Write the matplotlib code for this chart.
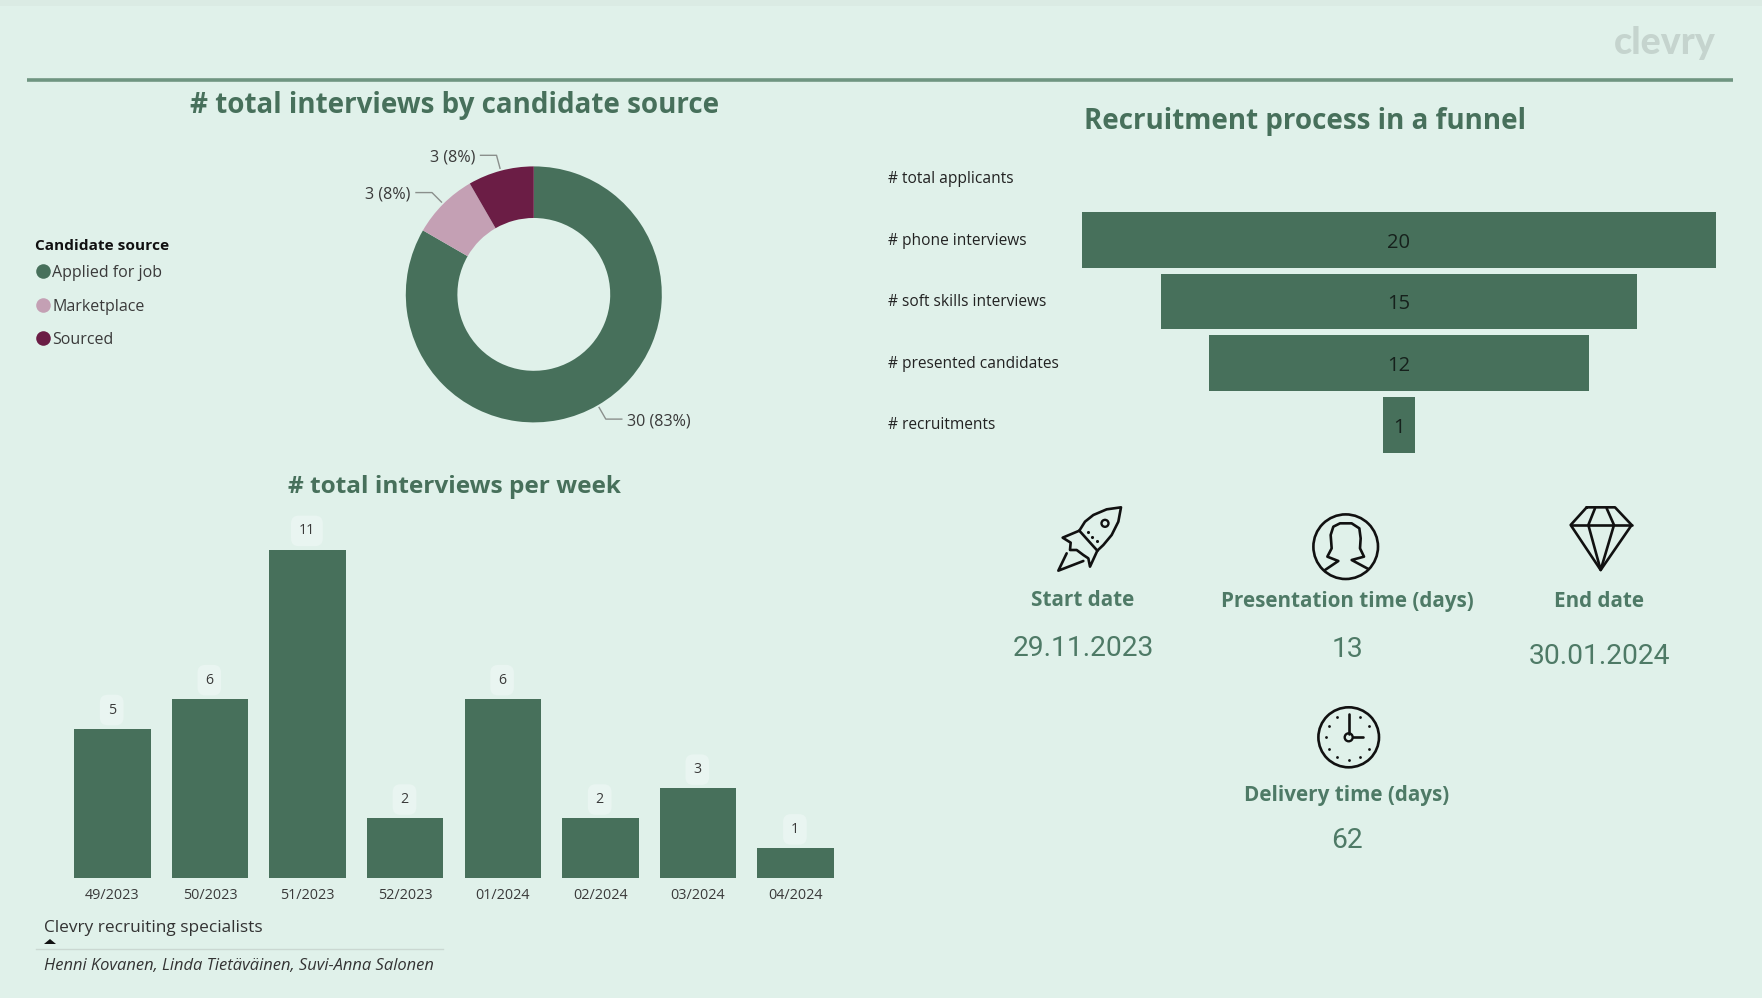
import numpy as np
import matplotlib
matplotlib.use('Agg')
import matplotlib.pyplot as plt
from matplotlib.patches import Ellipse, Rectangle, Polygon

# data
weeks = ['49/2023', '50/2023', '51/2023', '52/2023', '01/2024', '02/2024', '03/2024', '04/2024']
week_interviews = [5, 6, 11, 2, 6, 2, 3, 1]

sources = ['Applied for job', 'Marketplace', 'Sourced']
source_counts = [30, 3, 3]
source_labels = ['30 (83%)', '3 (8%)', '3 (8%)']

funnel_steps = ['# total applicants', '# phone interviews', '# soft skills interviews',
                '# presented candidates', '# recruitments']
funnel_values = [0, 20, 15, 12, 1]

kpi_titles = ['Start date', 'Presentation time (days)', 'End date', 'Delivery time (days)']
kpi_values = ['29.11.2023', '13', '30.01.2024', '62']

GREEN = '#47705B'
PINK = '#C4A0B4'
WINE = '#6B1D45'
BG = '#E0F1EA'
TITLE = '#47705B'
TEXT = '#3A3A3A'
FONT = 'Open Sans'
W, H = 1762, 998
DY = 2.5   # Open Sans sits a little high with va=center

plt.rcParams['font.family'] = FONT


def px_axes(fig, left, top, right, bottom):
    # axes placed by pixel box, y counted from the top of the picture
    return fig.add_axes([left / W, 1 - bottom / H, (right - left) / W, (bottom - top) / H])


fig = plt.figure(figsize=(W / 100, H / 100), dpi=100, facecolor=BG)

# overlay in pixels for furniture
ov = fig.add_axes([0, 0, 1, 1], zorder=5)
ov.set_xlim(0, W)
ov.set_ylim(H, 0)
ov.axis('off')
ov.patch.set_alpha(0)

ov.add_patch(Rectangle((0, 0), W, 6, fc='#DBEBE4', ec='none'))
ov.plot([27, 1733], [80, 80], color='#6F9581', lw=2.6, solid_capstyle='butt')
ov.text(1665, 43, 'clevry', fontsize=27, fontweight='black', color='#C5D4CE', ha='center', va='center',
        family='Lato')

ov.text(454.5, 103 + DY, '# total interviews by candidate source', fontsize=20, fontweight='bold',
        color=TITLE, ha='center', va='center')
ov.text(454.5, 484 + DY, '# total interviews per week', fontsize=17.6, fontweight='bold',
        color=TITLE, ha='center', va='center')
ov.text(1305.5, 119 + DY, 'Recruitment process in a funnel', fontsize=20, fontweight='bold',
        color=TITLE, ha='center', va='center')

# bars per week
ax = px_axes(fig, 63.6, 500.4, 844.4, 878)
x = np.arange(len(weeks))
bars = ax.bar(x, week_interviews, width=0.783, color=GREEN)
ax.set_xlim(-0.5, len(weeks) - 0.5)
ax.set_ylim(0, 12.65)
ax.patch.set_alpha(0)
for s in ax.spines.values():
    s.set_visible(False)
ax.set_yticks([])
ax.set_xticks(x, weeks)
ax.tick_params(axis='x', length=0, pad=7.3, labelsize=10.4, labelcolor=TEXT)
for b, v in zip(bars, week_interviews):
    ax.annotate(str(v), (b.get_x() + b.get_width() / 2, v), xytext=(-0.5, 13.5), textcoords='offset points',
                ha='center', va='center', fontsize=10.2, color=TEXT, annotation_clip=False,
                bbox=dict(boxstyle='round,pad=0.55', fc='#E9F5F1', ec='none'))

# donut
ring = px_axes(fig, 533.8 - 160, 294.4 - 160, 533.8 + 160, 294.4 + 160)
wedges, _ = ring.pie(source_counts, colors=[GREEN, PINK, WINE], startangle=90, counterclock=False,
                     radius=1, wedgeprops=dict(width=0.403, linewidth=0))
ring.set_xlim(-1.25, 1.25)
ring.set_ylim(-1.25, 1.25)
for w, lab in zip(wedges, source_labels):
    a = np.radians((w.theta1 + w.theta2) / 2)
    cx, cy = np.cos(a), np.sin(a)
    ex, ey = 1.125 * cx, 1.125 * cy
    side = 1 if cx > 0 else -1
    ring.plot([1.02 * cx, ex, ex + side * 0.125], [1.02 * cy, ey, ey], color='#8A8F8C', lw=1, clip_on=False)
    ring.text(ex + side * 0.165, ey - 0.018, lab, fontsize=11.6, color=TEXT, va='center',
              ha='left' if side > 0 else 'right', clip_on=False)

# legend
ov.text(35, 243 + DY, 'Candidate source', fontsize=11.1, fontweight='bold', color='#111111', va='center')
for i, (name, col) in enumerate(zip(sources, [GREEN, PINK, WINE])):
    y = 271 + i * 33.7
    ov.scatter([43], [y], s=110, color=col, linewidths=0)
    ov.text(52, y + DY - 0.5, name, fontsize=11.5, color=TEXT, va='center')

# funnel
fn = px_axes(fig, 1082, 147.6, 1716, 455.6)
rows = np.arange(len(funnel_steps))
vals = np.array(funnel_values, dtype=float)
fn.barh(rows, vals, left=-vals / 2, height=0.9, color=GREEN)
fn.set_xlim(-10, 10)
fn.set_ylim(len(rows) - 0.5, -0.5)
fn.patch.set_alpha(0)
fn.axis('off')
for r, v, name in zip(rows, funnel_values, funnel_steps):
    if v:
        fn.annotate(str(v), (0, r), xytext=(0, -2), textcoords='offset points', ha='center', va='center',
                    fontsize=14.5, color='#16211C')
    fn.annotate(name, (888 / W, r), xycoords=('figure fraction', 'data'), xytext=(0, -0.5),
                textcoords='offset points', fontsize=11.2, color='#222222', va='center',
                annotation_clip=False)

# KPI texts
kpi_x = [1083, 1347, 1599, 1347]
kpi_title_y = [598, 599, 599, 793]
kpi_value_y = [646, 647, 654, 838]
for t, v, kx, ty, vy in zip(kpi_titles, kpi_values, kpi_x, kpi_title_y, kpi_value_y):
    ov.text(kx, ty + DY, t, fontsize=14.9, fontweight='bold', color='#4E7A66', ha='center', va='center')
    ov.text(kx, vy + DY, v, fontsize=20.3, color='#4E7A66', ha='center', va='center', family='Roboto')


def z(pts, ox, oy):
    return [(ox + p[0] / 3, oy + p[1] / 3) for p in pts]


def line(pts, ox, oy, lw=1.9, closed=False):
    q = z(pts, ox, oy)
    if closed:
        q = q + [q[0]]
    ov.plot([p[0] for p in q], [p[1] for p in q], color='#111111', lw=lw, solid_joinstyle='round',
            solid_capstyle='round')


# rocket
RX, RY = 1050, 500
line([(88, 92), (105, 65), (130, 45), (170, 28), (213, 22), (205, 65), (185, 105), (160, 135), (142, 152)], RX, RY)
line([(88, 92), (142, 152)], RX, RY)
line([(88, 92), (38, 113), (62, 128), (60, 150), (80, 150), (100, 165), (115, 175), (120, 200), (142, 152)], RX, RY)
line([(50, 160), (25, 212), (100, 183)], RX, RY)
ov.add_patch(Ellipse(z([(165, 70)], RX, RY)[0], 7, 7, fc='none', ec='#111111', lw=1.7))
for d in [(113, 95), (127, 110), (140, 124)]:
    q = z([d], RX, RY)[0]
    ov.scatter([q[0]], [q[1]], s=5, color='#111111', linewidths=0)

# person
PX, PY = 1300, 505
ov.add_patch(Ellipse((1345.7, 546.7), 64.6, 64.6, fc='none', ec='#111111', lw=1.9))
line([(75, 195), (115, 168), (82, 155), (95, 130), (92, 90), (100, 65), (120, 55), (155, 55), (178, 70),
      (182, 100), (180, 130), (192, 155), (155, 165), (205, 192)], PX, PY)

# diamond
DX, DYY = 1560, 500
line([(80, 22), (165, 22), (215, 75), (122, 210), (32, 75)], DX, DYY, closed=True)
line([(32, 75), (215, 75)], DX, DYY)
line([(105, 25), (85, 75), (122, 210), (162, 75), (140, 25)], DX, DYY)

# clock
ov.add_patch(Ellipse((1348.7, 737.3), 60.6, 60, fc='none', ec='#111111', lw=1.9))
ov.plot([1348.7, 1348.7], [714, 733.5], color='#111111', lw=1.9, solid_capstyle='round')
ov.plot([1352.7, 1363], [737.3, 737.3], color='#111111', lw=1.9, solid_capstyle='round')
ov.add_patch(Ellipse((1348.7, 737.3), 8, 8, fc='none', ec='#111111', lw=1.7))
for k in range(12):
    if k in (0, 3):
        continue
    a = np.radians(30 * k)
    ov.scatter([1348.7 + 23 * np.sin(a)], [737.3 - 23 * np.cos(a)], s=4, color='#111111', linewidths=0)

# footer
ov.text(44, 925 + DY, 'Clevry recruiting specialists', fontsize=12.4, color='#333333', va='center')
ov.add_patch(Polygon([(44, 944), (56, 944), (50, 939)], fc='#111111', ec='none'))
ov.plot([36, 443], [948.5, 948.5], color='#CBD8D2', lw=1)
ov.text(44, 964 + DY, 'Henni Kovanen, Linda Tietäväinen, Suvi-Anna Salonen', fontsize=11.9, style='italic',
        color='#333333', va='center')

fig.savefig('out.png', dpi=100, facecolor=BG)
